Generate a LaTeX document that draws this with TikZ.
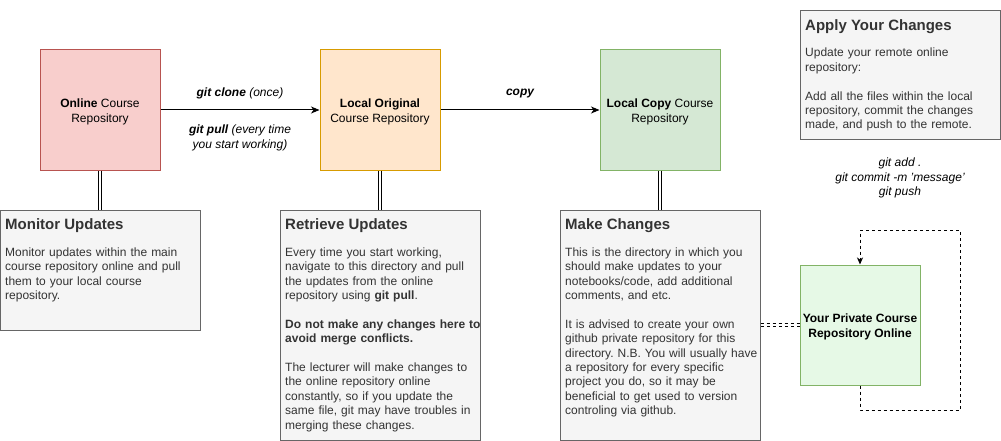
\documentclass[tikz,border=0pt]{standalone}
\usepackage{fontspec}
\setmainfont{Liberation Sans}
\usetikzlibrary{arrows.meta}
\frenchspacing
\definecolor{onlinefill}{HTML}{F8CECC}
\definecolor{onlinedraw}{HTML}{B85450}
\definecolor{origfill}{HTML}{FFE6CC}
\definecolor{origdraw}{HTML}{D79B00}
\definecolor{copyfill}{HTML}{D5E8D4}
\definecolor{copydraw}{HTML}{82B366}
\definecolor{privfill}{HTML}{E6F9E6}
\definecolor{notefill}{HTML}{F5F5F5}
\definecolor{notedraw}{HTML}{666666}
\definecolor{notetext}{HTML}{333333}
\newcommand\rtopfix{\rule{0pt}{12.8pt}}
\begin{document}
\begin{tikzpicture}[x=1pt,y=-1pt,
  repo/.style={draw, line width=1pt, minimum width=120pt, minimum height=120pt,
    inner sep=0pt, align=center, font=\fontsize{12}{14.4}\selectfont},
  notebox/.style={draw=notedraw, fill=notefill, line width=1pt, inner sep=0pt},
  notehead/.style={anchor=base west, inner sep=0pt, text=notetext,
    font=\fontsize{15}{18}\selectfont\bfseries},
  notebody/.style={anchor=north west, inner sep=0pt, text=notetext, text width=196pt,
    align=left, font=\fontsize{12}{14.4}\selectfont},
  elabel/.style={inner sep=0pt, align=center, font=\fontsize{12}{14.4}\selectfont\itshape},
  flow/.style={line width=1pt, -{Stealth[length=8.5pt,width=7pt,inset=2.5pt]}},
  dbl/.style={line width=1pt, double, double distance=2.2pt},
  dbldash/.style={line width=1pt, double, double distance=2.2pt, dash pattern=on 3pt off 3pt},
  loopline/.style={line width=1pt, dash pattern=on 3pt off 3pt, -{Stealth[length=7pt,width=6pt,inset=2pt]}}
]
\useasboundingbox (0,0) rectangle (1001,441);

% repository nodes
\node[repo, fill=onlinefill, draw=onlinedraw] (online) at (100,110) {\rtopfix\textbf{Online} Course\\Repository};
\node[repo, fill=origfill, draw=origdraw] (lorig) at (380,110) {\rtopfix\textbf{Local Original}\\Course Repository};
\node[repo, fill=copyfill, draw=copydraw] (lcopy) at (660,110) {\rtopfix\textbf{Local Copy} Course\\Repository};
\node[repo, fill=privfill, draw=copydraw] (priv) at (860,325) {\rtopfix\textbf{Your Private Course}\\\textbf{Repository Online}};

% note boxes
\node[notebox, minimum width=200pt, minimum height=120pt] (mon) at (100,270) {};
\node[notebox, minimum width=200pt, minimum height=230pt] (ret) at (380,325) {};
\node[notebox, minimum width=200pt, minimum height=230pt] (make) at (660,325) {};
\node[notebox, minimum width=200pt, minimum height=129.3pt] (apply) at (900,75.35) {};

\node[notehead] (monh) at ([shift={(5.5,20.2)}]mon.north west) {Monitor Updates};
\node[notebody] (monb) at ([shift={(5.5,36.5)}]mon.north west) {\strut Monitor updates within the main\\course repository online and pull\\them to your local course\\repository.};

\node[notehead] (reth) at ([shift={(5.5,20.2)}]ret.north west) {Retrieve Updates};
\node[notebody] (retb) at ([shift={(5.5,36.5)}]ret.north west) {\strut Every time you start working,\\navigate to this directory and pull\\the updates from the online\\repository using \textbf{git pull}.\\[14.4pt]\textbf{Do not make any changes here to}\\\textbf{avoid merge conflicts.}\\[14.4pt]The lecturer will make changes to\\the online repository online\\constantly, so if you update the\\same file, git may have troubles in\\merging these changes.};

\node[notehead] (makeh) at ([shift={(5.5,20.2)}]make.north west) {Make Changes};
\node[notebody] (makeb) at ([shift={(5.5,36.5)}]make.north west) {\strut This is the directory in which you\\should make updates to your\\notebooks/code, add additional\\comments, and etc.\\[14.4pt]It is advised to create your own\\github private repository for this\\directory. N.B. You will usually have\\a repository for every specific\\project you do, so it may be\\beneficial to get used to version\\controling via github.};

\node[notehead] (applyh) at ([shift={(5.5,20.2)}]apply.north west) {Apply Your Changes};
\node[notebody] (applyb) at ([shift={(5.5,36.5)}]apply.north west) {\strut Update your remote online\\repository:\\[14.4pt]Add all the files within the local\\repository, commit the changes\\made, and push to the remote.};

\node[elabel] (gitcmds) at (900,178) {git add .\\git commit -m 'message'\\git push};

% connectors
\draw[flow] (online.east) --
  node[elabel, yshift=16.5pt] (clonelbl) {\textbf{git clone} (once)}
  node[elabel, yshift=-28pt] (pulllbl) {\textbf{git pull} (every time\\you start working)}
  (lorig.west);
\draw[flow] (lorig.east) -- node[elabel, yshift=16.5pt] (copylbl) {\textbf{copy}} (lcopy.west);

\draw[dbl] (online.south) -- (mon.north);
\draw[dbl] (lorig.south) -- (ret.north);
\draw[dbl] (lcopy.south) -- (make.north);
\draw[dbldash] (make.east) -- (priv.west);

\coordinate (l1) at (860,410);
\coordinate (l2) at (960,410);
\coordinate (l3) at (960,230);
\coordinate (l4) at (860,230);
\draw[loopline] (priv.south) -- (l1) -- (l2) -- (l3) -- (l4) -- (priv.north);
\end{tikzpicture}
\end{document}
